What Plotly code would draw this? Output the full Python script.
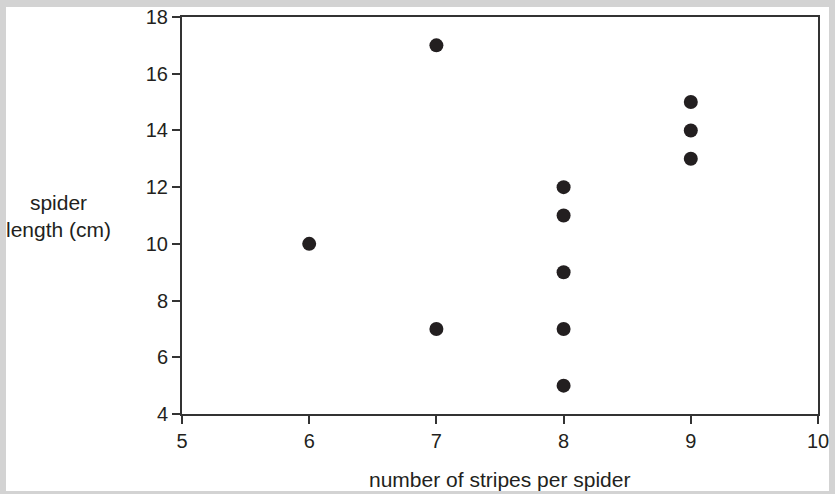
import plotly.graph_objects as go

stripes = [6, 7, 7, 8, 8, 8, 8, 8, 9, 9, 9]
length_cm = [10, 17, 7, 12, 11, 9, 7, 5, 15, 14, 13]
x_ticks = [5, 6, 7, 8, 9, 10]
y_ticks = [4, 6, 8, 10, 12, 14, 16, 18]

ink = "#231f20"
font = dict(family="Liberation Sans, Arial, sans-serif", size=20, color=ink)
title_font = dict(family="Liberation Sans, Arial, sans-serif", size=21, color=ink)

fig = go.Figure()
fig.add_trace(go.Scatter(
    x=stripes, y=length_cm, mode="markers",
    marker=dict(size=14, color=ink, line=dict(width=0)),
    hoverinfo="x+y", showlegend=False,
))

L, R, T, B = 182, 17, 17, 80
W, H = 835, 494
pw, ph = W - L - R, H - T - B

def px(x):
    return (x - L) / pw

def py(y):
    return (H - B - y) / ph

fig.add_shape(type="rect", xref="paper", yref="paper",
              x0=px(6), x1=px(829), y0=py(491), y1=py(7),
              fillcolor="white", line=dict(width=0), layer="below")

axis_common = dict(
    showline=True, linecolor="#333333", linewidth=2, mirror=True,
    ticks="outside", ticklen=8, tickwidth=1.5, tickcolor="#333333",
    showgrid=False, zeroline=False, tickfont=font, automargin=False,
)
fig.update_xaxes(range=[5, 10], tickvals=x_ticks, **axis_common)
fig.update_yaxes(range=[4, 18], tickvals=y_ticks, **axis_common)

fig.add_annotation(text="spider<br>length (cm)", xref="paper", yref="paper",
                   x=px(59), y=py(216), showarrow=False, font=title_font,
                   xanchor="center", yanchor="middle", align="center")
fig.add_annotation(text="number of stripes per spider", xref="paper", yref="paper",
                   x=px(499), y=py(479), showarrow=False, font=title_font,
                   xanchor="center", yanchor="middle")

fig.update_layout(
    width=W, height=H,
    margin=dict(l=L, r=R, t=T, b=B),
    paper_bgcolor="#d3d3d3", plot_bgcolor="white",
    font=font,
)
fig.write_html("out.html", config={"displayModeBar": False},
               post_script="document.body.style.margin='0';document.body.style.overflow='hidden';")
